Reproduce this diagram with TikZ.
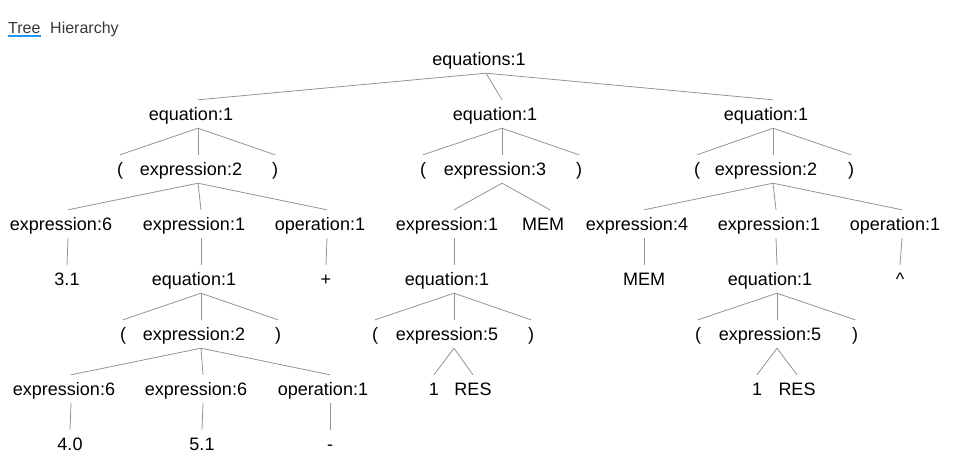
\documentclass[tikz,border=0pt]{standalone}
\usepackage{fontspec}
\setmainfont{Liberation Sans}
\usepackage{tikz}

\tikzset{
  nterm/.style={font=\fontsize{18}{22}\selectfont, inner sep=0pt, text height=20pt, text depth=8pt, anchor=base, execute at end node={\kern14pt}},
  term/.style={font=\fontsize{18}{22}\selectfont, inner sep=0pt, text height=20pt, text depth=8pt, anchor=base},
  link/.style={draw=black!42, line width=0.8pt},
  tab/.style={font=\fontsize{16}{19}\selectfont, inner sep=0pt, anchor=base west, text=black!78}
}

\begin{document}
\begin{tikzpicture}[x=1pt, y=-1pt]
  \useasboundingbox (0,0) rectangle (967,472);
  \node[tab] (tree) at (8,33) {Tree};
  \node[tab] (hier) at (50,33) {Hierarchy};
  \draw[draw={rgb,255:red,33;green,150;blue,243}, line width=1.5pt] ([yshift=-2.8pt]tree.base west) -- ([yshift=-2.8pt]tree.base east);

  \node[nterm] (root) at (486,65) {equations:1};
  \node[nterm] (eqA) at (198,120) {equation:1};
  \node[nterm] (eqB) at (502,120) {equation:1};
  \node[nterm] (eqC) at (773,120) {equation:1};

  \node[term] (aL) at (120,175) {(};
  \node[nterm] (aX) at (198,175) {expression:2};
  \node[term] (aR) at (275,175) {)};
  \node[nterm] (a1) at (68,230) {expression:6};
  \node[nterm] (a2) at (201,230) {expression:1};
  \node[nterm] (a3) at (327,230) {operation:1};
  \node[term] (a1v) at (67,285) {3.1};
  \node[nterm] (a2e) at (201,285) {equation:1};
  \node[term] (a3v) at (326,285) {+};
  \node[term] (a2L) at (123,340) {(};
  \node[nterm] (a2X) at (201,340) {expression:2};
  \node[term] (a2R) at (278,340) {)};
  \node[nterm] (b1) at (71,395) {expression:6};
  \node[nterm] (b2) at (203,395) {expression:6};
  \node[nterm] (b3) at (330,395) {operation:1};
  \node[term] (b1v) at (70,450) {4.0};
  \node[term] (b2v) at (202,450) {5.1};
  \node[term] (b3v) at (330,450) {-};

  \node[term] (bL) at (423,175) {(};
  \node[nterm] (bX) at (502,175) {expression:3};
  \node[term] (bR) at (579,175) {)};
  \node[nterm] (c1) at (454,230) {expression:1};
  \node[nterm] (c2) at (550,230) {MEM};
  \node[nterm] (c1e) at (454,285) {equation:1};
  \node[term] (cL) at (375,340) {(};
  \node[nterm] (cX) at (454,340) {expression:5};
  \node[term] (cR) at (531,340) {)};
  \node[term] (c5a) at (434,395) {1};
  \node[term] (c5b) at (473,395) {RES};

  \node[term] (dL) at (697,175) {(};
  \node[nterm] (dX) at (773,175) {expression:2};
  \node[term] (dR) at (851,175) {)};
  \node[nterm] (d1) at (644,230) {expression:4};
  \node[nterm] (d2) at (776,230) {expression:1};
  \node[nterm] (d3) at (902,230) {operation:1};
  \node[term] (d1v) at (644,285) {MEM};
  \node[nterm] (d2e) at (777,285) {equation:1};
  \node[term] (d3v) at (900,285) {\textasciicircum};
  \node[term] (eL) at (698,340) {(};
  \node[nterm] (eX) at (777,340) {expression:5};
  \node[term] (eR) at (855,340) {)};
  \node[term] (e1) at (757,395) {1};
  \node[term] (e2) at (797,395) {RES};

  \foreach \a/\b in {root/eqA, root/eqB, root/eqC,
      eqA/aL, eqA/aX, eqA/aR, aX/a1, aX/a2, aX/a3, a1/a1v, a2/a2e, a3/a3v,
      a2e/a2L, a2e/a2X, a2e/a2R, a2X/b1, a2X/b2, a2X/b3, b1/b1v, b2/b2v, b3/b3v,
      eqB/bL, eqB/bX, eqB/bR, bX/c1, bX/c2, c1/c1e, c1e/cL, c1e/cX, c1e/cR, cX/c5a, cX/c5b,
      eqC/dL, eqC/dX, eqC/dR, dX/d1, dX/d2, dX/d3, d1/d1v, d2/d2e, d3/d3v,
      d2e/eL, d2e/eX, d2e/eR, eX/e1, eX/e2}
    \draw[link] (\a.south) -- (\b.north);
\end{tikzpicture}
\end{document}
